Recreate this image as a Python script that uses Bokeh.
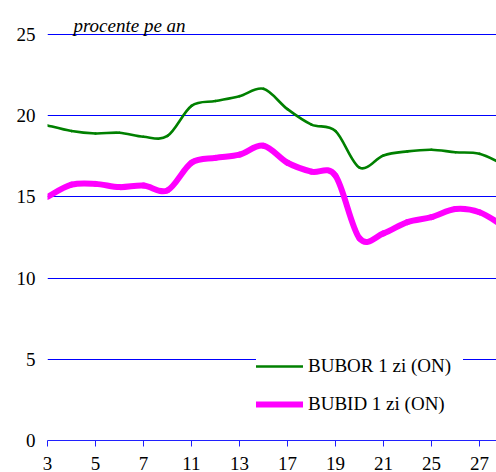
from bokeh.plotting import figure
from bokeh.models import (Range1d, FixedTicker, Legend, LegendItem, Label, ColumnDataSource)
from bokeh.embed import file_html
from bokeh.resources import INLINE

# ---- data ----
days = [3, 4, 5, 6, 7, 10, 11, 12, 13, 14, 17, 18, 19, 20, 21, 24, 25, 26, 27, 28]
bubor = [19.4, 19.05, 18.9, 18.95, 18.7, 18.75, 20.6, 20.9, 21.2, 21.65, 20.4, 19.45,
         19.05, 16.8, 17.55, 17.8, 17.9, 17.75, 17.65, 17.0]
bubid = [15.0, 15.75, 15.8, 15.6, 15.7, 15.4, 17.1, 17.4, 17.6, 18.15, 17.1, 16.55,
         16.3, 12.45, 12.75, 13.45, 13.75, 14.25, 14.05, 13.2]
series_names = ["BUBOR 1 zi (ON)", "BUBID 1 zi (ON)"]
y_ticks = [0, 5, 10, 15, 20, 25]
title_text = "procente pe an"

FONT = "'Liberation Serif', 'Times New Roman', serif"

idx = list(range(len(days)))


def smooth_segments(xs, ys):
    """Bezier control points for a smoothed line through the data points."""
    n = len(xs)
    d = dict(x0=[], y0=[], x1=[], y1=[], cx0=[], cy0=[], cx1=[], cy1=[])
    for i in range(n - 1):
        xp, yp = (xs[i - 1], ys[i - 1]) if i > 0 else (xs[i], ys[i])
        xn, yn = (xs[i + 2], ys[i + 2]) if i + 2 < n else (xs[i + 1], ys[i + 1])
        d["x0"].append(xs[i]); d["y0"].append(ys[i])
        d["x1"].append(xs[i + 1]); d["y1"].append(ys[i + 1])
        d["cx0"].append(xs[i] + (xs[i + 1] - xp) / 6.0)
        d["cy0"].append(ys[i] + (ys[i + 1] - yp) / 6.0)
        d["cx1"].append(xs[i + 1] - (xn - xs[i]) / 6.0)
        d["cy1"].append(ys[i + 1] - (yn - ys[i]) / 6.0)
    return ColumnDataSource(d)


p = figure(width=496, height=472, output_backend="svg", toolbar_location=None,
           x_range=Range1d(0, 18.71), y_range=Range1d(0, 27.09),
           min_border_left=47, min_border_right=0, min_border_top=0, min_border_bottom=0)
p.outline_line_color = None
p.background_fill_color = "white"
p.border_fill_color = "white"

# grid
p.xgrid.grid_line_color = None
p.ygrid.ticker = FixedTicker(ticks=y_ticks[1:])
p.ygrid.grid_line_color = "#0000ff"
p.ygrid.grid_line_width = 1

# y axis
p.yaxis.ticker = FixedTicker(ticks=y_ticks)
p.yaxis.axis_line_color = None
p.yaxis.major_tick_line_color = None
p.yaxis.minor_tick_line_color = None
p.yaxis.major_tick_out = 0
p.yaxis.major_tick_in = 0
p.yaxis.major_label_standoff = 12
p.yaxis.major_label_text_font = FONT
p.yaxis.major_label_text_font_size = "19px"
p.yaxis.major_label_text_color = "black"

# x axis
p.xaxis.ticker = FixedTicker(ticks=idx[::2])
p.xaxis.major_label_overrides = {i: str(days[i]) for i in idx[::2]}
p.xaxis.axis_line_color = "#2020ff"
p.xaxis.major_tick_line_color = "#2020ff"
p.xaxis.minor_tick_line_color = None
p.xaxis.major_tick_out = 6
p.xaxis.major_tick_in = 0
p.xaxis.major_label_standoff = 10
p.xaxis.major_label_text_font = FONT
p.xaxis.major_label_text_font_size = "19px"
p.xaxis.major_label_text_color = "black"

# lines
r1 = p.bezier(x0="x0", y0="y0", x1="x1", y1="y1", cx0="cx0", cy0="cy0", cx1="cx1", cy1="cy1",
              source=smooth_segments(idx, bubor), line_color="#008000", line_width=2.6,
              line_cap="round")
r2 = p.bezier(x0="x0", y0="y0", x1="x1", y1="y1", cx0="cx0", cy0="cy0", cx1="cx1", cy1="cy1",
              source=smooth_segments(idx, bubid), line_color="#ff00ff", line_width=6,
              line_cap="round")

legend = Legend(items=[LegendItem(label=series_names[0], renderers=[r1]),
                       LegendItem(label=series_names[1], renderers=[r2])],
                location=(209, 25), orientation="vertical",
                glyph_width=47, glyph_height=20, label_height=20, label_width=155,
                label_standoff=5, spacing=16, padding=20, margin=0,
                border_line_color=None, background_fill_color="white", background_fill_alpha=1.0,
                label_text_font=FONT, label_text_font_size="19px", label_text_color="black")
p.add_layout(legend, "center")

p.add_layout(Label(x=1.08, y=25.55, text=title_text, text_font=FONT, text_font_size="19px",
                   text_font_style="italic", text_color="black", text_baseline="alphabetic",
                   text_align="left"))

open("out.html", "w").write(file_html(p, INLINE))
